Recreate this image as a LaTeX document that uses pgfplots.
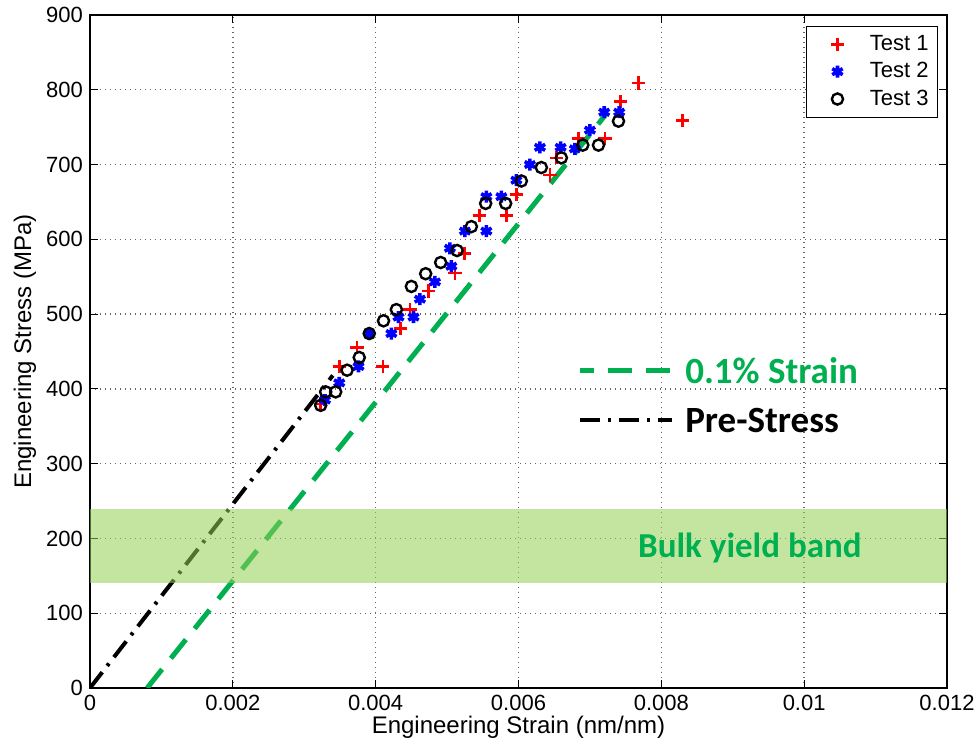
\documentclass[border=0pt]{standalone}
\usepackage{pgfplots}
\pgfplotsset{compat=1.18}
\usepackage{fontspec}
\setmainfont{Liberation Sans}
\newfontfamily\calibri{Carlito}
\definecolor{offgreen}{RGB}{0,176,80}
\definecolor{bandgreen}{RGB}{146,208,80}
\definecolor{mred}{RGB}{255,0,0}
\definecolor{mblue}{RGB}{0,0,255}
\begin{document}
\begin{tikzpicture}
\begin{axis}[name=ax, scale only axis, width=428.5pt, height=336.5pt,
 xmin=0,xmax=0.012,ymin=0,ymax=900,
 scaled x ticks=false,
 xtick={0,0.002,0.004,0.006,0.008,0.01,0.012},
 xticklabels={0,0.002,0.004,0.006,0.008,0.01,0.012},
 ytick={0,100,...,900},
 grid=major, grid style={black!60, line width=0.7pt, dash pattern=on 0.7pt off 1.8pt},
 tick align=inside, major tick length=4pt,
 tick style={black, line width=0.5pt},
 axis line style={black, line width=0.8pt},
 ticklabel style={font=\fontsize{11}{13}\selectfont},
 /pgf/number format/assume math mode=true,
 xlabel={Engineering Strain (nm/nm)}, ylabel={Engineering Stress (MPa)},
 label style={font=\fontsize{12}{14}\selectfont},
 xlabel style={at={(axis description cs:0.5,-0.058)},anchor=center},
 ylabel style={at={(axis description cs:-0.076,0.5)},anchor=center},
 legend style={at={(0.9895,0.9837)},anchor=north east, draw=black, fill=white,
   font=\fontsize{11}{13}\selectfont, row sep=0.5pt, inner sep=2.5pt},
 legend cell align=left,
 legend image code/.code={\path[draw=none,fill=none] (0,0) -- (0.95cm,0); \draw[#1,only marks] plot coordinates {(0.45cm,0cm)};},
]
% pre-stress and 0.1% strain lines
\addplot[black, line width=2pt, dash pattern=on 10pt off 4pt on 1.5pt off 4pt, forget plot]
  coordinates {(0,0) (0.0034,418)};
\addplot[offgreen, line width=2.5pt, dash pattern=on 12pt off 7pt, forget plot]
  coordinates {(0.0008,0) (0.00724,769)};
% bulk yield band
\addplot[draw=none, fill=bandgreen, fill opacity=0.55, forget plot]
  coordinates {(0,140) (0.012,140) (0.012,240) (0,240)} -- cycle;
% Test 1
\addplot[only marks, mark=+, mark size=3.3pt, mred, line width=1.3pt]
coordinates {
(0.00323,380) (0.00349,430) (0.00374,455) (0.00410,430) (0.00435,481)
(0.00448,506) (0.00474,531) (0.00511,555) (0.00524,581) (0.00545,632)
(0.00583,632) (0.00597,660) (0.00644,686) (0.00653,709) (0.00684,735)
(0.00721,735) (0.00743,784) (0.00768,809) (0.00830,759)};
\addlegendentry{Test 1}
% Test 2
\addplot[only marks, mark=asterisk, mark size=3pt, mblue, line width=1.8pt]
coordinates {
(0.00329,385) (0.00349,408) (0.00376,430) (0.00391,474) (0.00422,474)
(0.00432,496) (0.00453,496) (0.00462,520) (0.00483,543) (0.00504,588)
(0.00506,564) (0.00525,611) (0.00555,611) (0.00555,657) (0.00576,657)
(0.00597,679) (0.00616,700) (0.00630,723) (0.00659,723) (0.00679,721)
(0.00700,746) (0.00720,770) (0.00741,770)};
\addlegendentry{Test 2}
% Test 3
\addplot[only marks, mark=o, mark size=2.8pt, black, line width=1.2pt]
coordinates {
(0.00323,378) (0.00330,396) (0.00344,396) (0.00360,425) (0.00377,442)
(0.00391,474) (0.00411,491) (0.00429,506) (0.00450,537) (0.00470,554)
(0.00491,569) (0.00514,585) (0.00534,617) (0.00554,648) (0.00582,648)
(0.00604,678) (0.00632,696) (0.00660,709) (0.00690,726) (0.00712,726)
(0.00740,758)};
\addlegendentry{Test 3}
% annotation samples
\addplot[offgreen, line width=2.5pt, dash pattern=on 12pt off 7pt, dash phase=5pt, forget plot]
  coordinates {(0.00686,425) (0.00815,425)};
\addplot[black, line width=2pt, dash pattern=on 10pt off 4pt on 1.5pt off 4pt, forget plot]
  coordinates {(0.00686,358) (0.00815,358)};
\node[anchor=west, font=\calibri\bfseries\fontsize{18.5}{20}\selectfont, text=offgreen, inner sep=0pt]
  at (axis cs:0.00833,425) {0.1\% Strain};
\node[anchor=west, font=\calibri\bfseries\fontsize{18.5}{20}\selectfont, text=black, inner sep=0pt]
  at (axis cs:0.00833,358) {Pre-Stress};
\node[anchor=center, font=\calibri\bfseries\fontsize{17.5}{20}\selectfont, text=offgreen, inner sep=0pt]
  at (axis cs:0.00924,187) {Bulk yield band};
\end{axis}
\pgfresetboundingbox
\path ([shift={(-45pt,-31.5pt)}]ax.south west) rectangle ([shift={(16.5pt,7.5pt)}]ax.north east);
\end{tikzpicture}
\end{document}
